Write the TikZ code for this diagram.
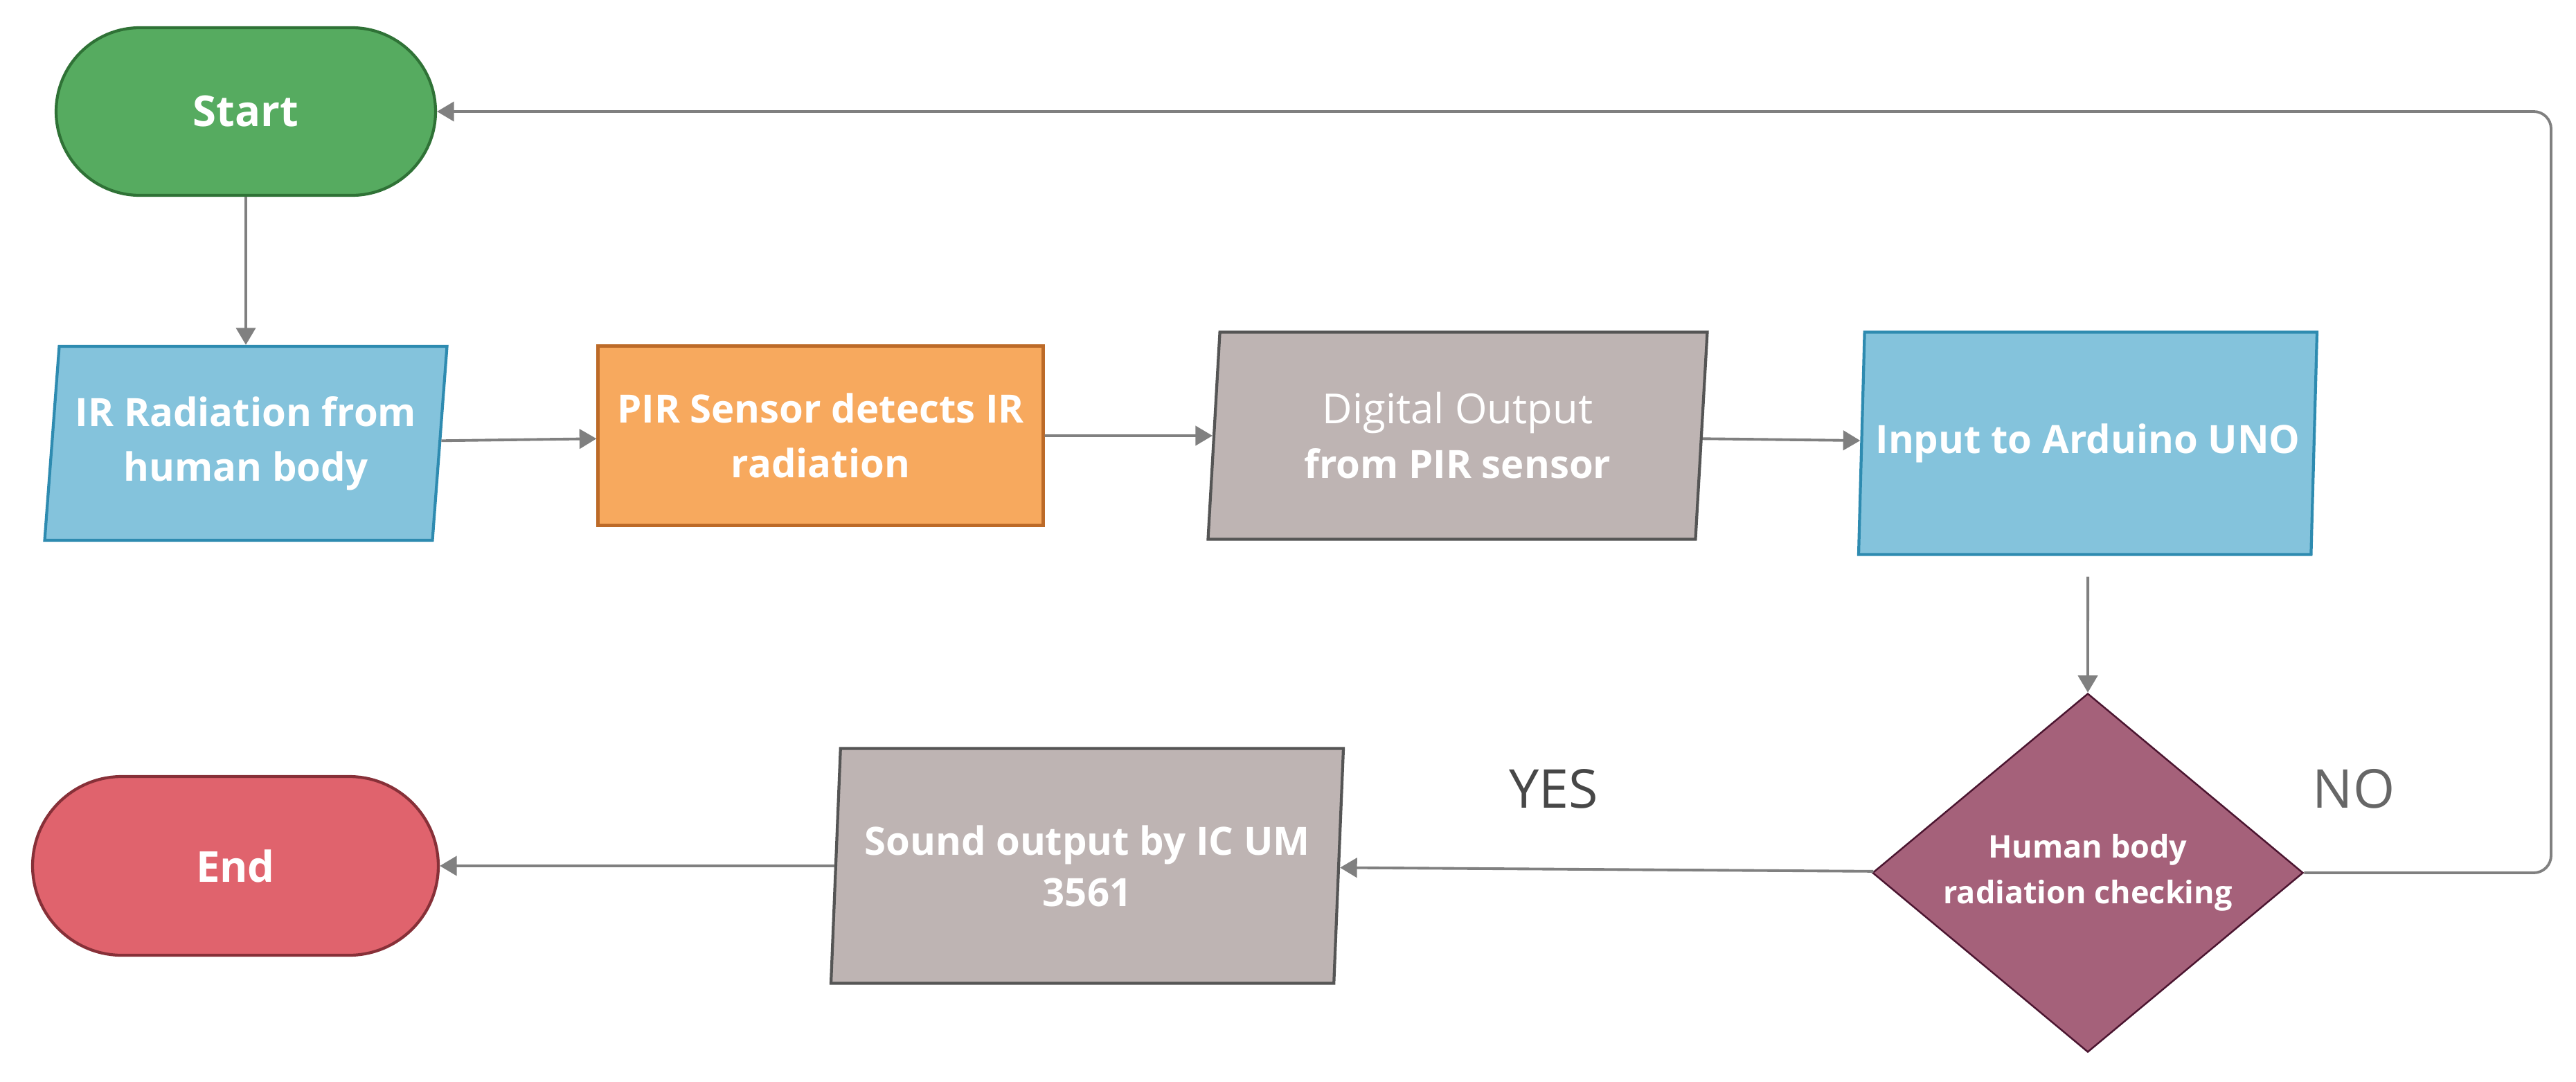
\documentclass[tikz,border=0pt]{standalone}
\usepackage{fontspec}
\setmainfont{Open Sans}
\usetikzlibrary{shapes.geometric, shapes.misc, positioning, arrows.meta}

\definecolor{startfill}{HTML}{56AB60}
\definecolor{startline}{HTML}{2F7236}
\definecolor{endfill}{HTML}{E0636D}
\definecolor{endline}{HTML}{873038}
\definecolor{iofill}{HTML}{84C3DC}
\definecolor{ioline}{HTML}{2E8BB0}
\definecolor{procfill}{HTML}{F7A95E}
\definecolor{procline}{HTML}{BC6A28}
\definecolor{outfill}{HTML}{BEB4B3}
\definecolor{outline}{HTML}{555555}
\definecolor{decfill}{HTML}{A5617A}
\definecolor{decline}{HTML}{4B1530}
\definecolor{arrowgray}{HTML}{808080}

\begin{document}
\begin{tikzpicture}[node distance=5cm, on grid, auto,
    >={Triangle[length=7pt,width=8pt]},
    base/.style={draw, line width=1.2pt, text=white, align=center, inner sep=2pt,
        font=\bfseries\fontsize{16}{22.5}\selectfont},
    terminal/.style={base, rounded rectangle},
    io/.style n args={2}{base, trapezium, trapezium stretches body,
        trapezium left angle=#1, trapezium right angle=#2},
    process/.style={base, rectangle, fill=procfill, draw=procline},
    decision/.style={base, diamond, aspect=1.2, inner sep=0pt, fill=decfill, draw=decline,
        line width=0.7pt, font=\bfseries\fontsize{12.8}{18.7}\selectfont},
    answer/.style={font=\fontsize{22}{26}\selectfont},
    flow/.style={->, draw=arrowgray, line width=1.1pt}]
    \useasboundingbox (0,0) rectangle (37.2,-15.61);

    \node[terminal, fill=startfill, draw=startline, minimum width=5.62cm, minimum height=2.42cm,
        font=\bfseries\fontsize{17.5}{22}\selectfont] (start) at (3.55,-1.61) {Start};
    \node[io={82}{98}, fill=iofill, draw=ioline, minimum width=5.81cm, minimum height=2.8cm]
        (ir) [below=4.79cm of start] {IR Radiation from\\human body};
    \node[process, minimum width=6.43cm, minimum height=2.59cm]
        (pir) [right=8.3cm of ir, yshift=0.11cm] {PIR Sensor detects IR\\radiation};
    \node[io={83}{97}, fill=outfill, draw=outline, minimum width=7.21cm, minimum height=2.99cm]
        (dig) [right=9.2cm of pir] {{\mdseries\fontsize{17}{22.5}\selectfont Digital Output}\\from PIR sensor};
    \node[io={83}{97}, fill=iofill, draw=ioline, minimum width=6.62cm, minimum height=3.21cm]
        (inp) [right=9.1cm of dig, yshift=-0.11cm] {Input to Arduino UNO};
    \node[decision, minimum width=6.22cm, minimum height=5.18cm]
        (dec) [below=6.2cm of inp] {Human body\\radiation checking};
    \node[io={84}{96}, fill=outfill, draw=outline, minimum width=7.4cm, minimum height=3.39cm,
        font=\bfseries\fontsize{16}{21}\selectfont]
        (snd) [left=14.45cm of dec, yshift=0.1cm] {Sound output by IC UM\\3561};
    \node[terminal, fill=endfill, draw=endline, minimum width=6cm, minimum height=2.58cm,
        font=\bfseries\fontsize{17.5}{22}\selectfont] (end) [left=12.3cm of snd] {End};

    \node[answer, text=black!72] (yes) at (22.44,-11.39) {YES};
    \node[answer, text=black!60] (no) at (33.99,-11.39) {NO};
    \coordinate[right=6.69cm of dec] (back);

    \draw[flow] (start) -- (ir);
    \draw[flow] (ir) -- (pir);
    \draw[flow] (pir) -- (dig);
    \draw[flow] (dig) -- (inp);
    \draw[flow, shorten <=0.3cm] (inp) -- (dec);
    \draw[flow] (dec) -- (snd);
    \draw[flow] (snd) -- (end);
    \draw[flow, rounded corners=0.25cm] (dec.east) -- (back) |- (start.east);
\end{tikzpicture}
\end{document}
